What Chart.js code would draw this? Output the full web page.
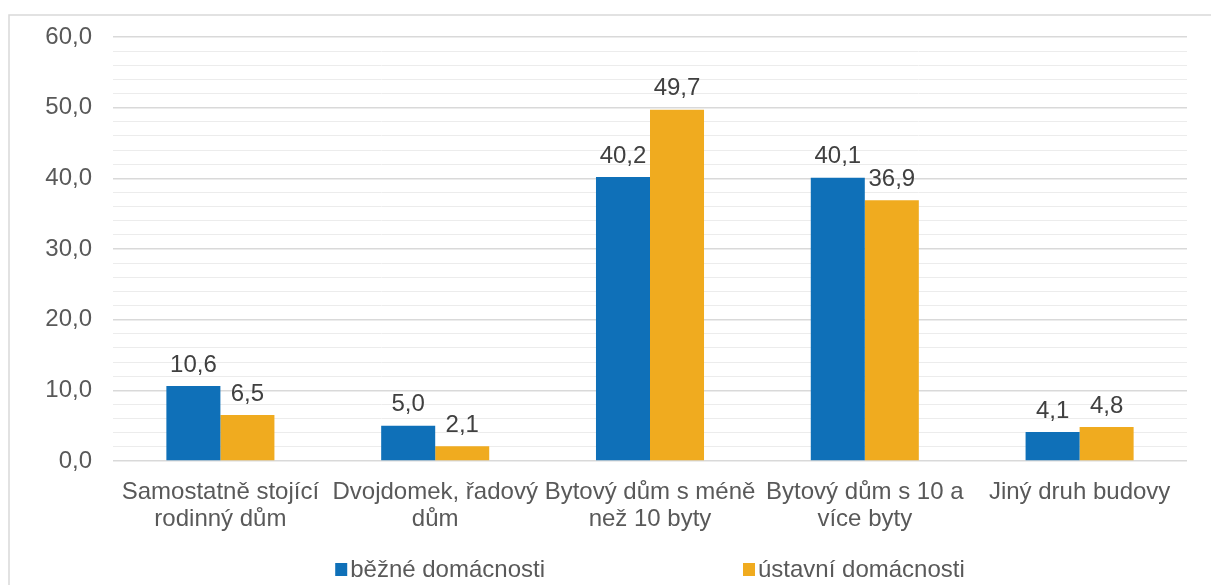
<!DOCTYPE html>
<html>
<head>
<meta charset="utf-8">
<script src="https://cdn.jsdelivr.net/npm/chart.js@4"></script>
<style>
  html, body { margin: 0; padding: 0; background: #fff; }
  #wrap { width: 1211px; height: 585px; position: relative; }
</style>
</head>
<body>
<div id="wrap"><canvas id="myChart"></canvas></div>
<script>
// Data
const categories = [
    ['Samostatně stojící', 'rodinný dům'],
    ['Dvojdomek, řadový', 'dům'],
    ['Bytový dům s méně', 'než 10 byty'],
    ['Bytový dům s 10 a', 'více byty'],
    'Jiný druh budovy'
];
const seriesNames = ['běžné domácnosti', 'ústavní domácnosti'];
const bezne = [10.6, 5.0, 40.2, 40.1, 4.1];
const ustavni = [6.5, 2.1, 49.7, 36.9, 4.8];

const FONT = '"Liberation Sans", Arial, sans-serif';
const fmt = v => v.toFixed(1).replace('.', ',');

// Outer frame (top and left edges only are visible)
const framePlugin = {
    id: 'frame',
    beforeDraw(chart) {
        const ctx = chart.ctx;
        ctx.save();
        ctx.strokeStyle = '#d9d9d9';
        ctx.lineWidth = 1.5;
        ctx.beginPath();
        ctx.moveTo(9, chart.height);
        ctx.lineTo(9, 15);
        ctx.lineTo(chart.width, 15);
        ctx.stroke();
        ctx.restore();
    }
};

// Value labels above each bar
const valueLabels = {
    id: 'valueLabels',
    afterDatasetsDraw(chart) {
        const ctx = chart.ctx;
        ctx.save();
        ctx.font = '24px ' + FONT;
        ctx.fillStyle = '#404040';
        ctx.textAlign = 'center';
        ctx.textBaseline = 'bottom';
        chart.data.datasets.forEach((ds, i) => {
            chart.getDatasetMeta(i).data.forEach((bar, j) => {
                ctx.fillText(fmt(ds.data[j]), bar.x, bar.y - 9);
            });
        });
        ctx.restore();
    }
};

// Excel-like legend with wide gap between entries
const wideLegend = {
    id: 'wideLegend',
    afterDraw(chart) {
        const ctx = chart.ctx;
        const area = chart.chartArea;
        ctx.save();
        ctx.font = '24px ' + FONT;
        ctx.textBaseline = 'middle';
        const box = 12, gapText = 3, gapItems = 198, y = 570;
        const widths = chart.data.datasets.map(ds => box + gapText + ctx.measureText(ds.label).width);
        const total = widths.reduce((a, b) => a + b, 0) + gapItems * (widths.length - 1);
        let x = (area.left + area.right) / 2 - total / 2;
        chart.data.datasets.forEach((ds, i) => {
            ctx.fillStyle = ds.backgroundColor;
            ctx.fillRect(x, y - 7, box, 13);
            ctx.fillStyle = '#595959';
            ctx.textAlign = 'left';
            ctx.fillText(ds.label, x + box + gapText, y);
            x += widths[i] + gapItems;
        });
        ctx.restore();
    }
};

function renderChart() {
    const ctx = document.getElementById('myChart').getContext('2d');
    new Chart(ctx, {
        type: 'bar',
        data: {
            labels: categories,
            datasets: [
                {
                    label: seriesNames[0],
                    data: bezne,
                    backgroundColor: '#0F70B8',
                    categoryPercentage: 0.503,
                    barPercentage: 1
                },
                {
                    label: seriesNames[1],
                    data: ustavni,
                    backgroundColor: '#F0AB1F',
                    categoryPercentage: 0.503,
                    barPercentage: 1
                }
            ]
        },
        options: {
            responsive: true,
            maintainAspectRatio: false,
            animation: false,
            layout: { padding: { top: 37, right: 24, left: 0, bottom: 0 } },
            plugins: {
                legend: { display: false },
                tooltip: { enabled: false }
            },
            scales: {
                x: {
                    grid: { display: false },
                    border: { display: false },
                    ticks: {
                        color: '#595959',
                        font: { family: FONT, size: 24, lineHeight: 1.12 },
                        maxRotation: 0,
                        autoSkip: false,
                        padding: 10
                    },
                    afterFit: s => { s.height = 124; }
                },
                y: {
                    min: 0,
                    max: 60,
                    border: { display: false },
                    grid: {
                        drawTicks: false,
                        color: c => c.tick.value % 10 === 0 ? '#d9d9d9' : '#ececec',
                        lineWidth: c => c.tick.value % 10 === 0 ? 1.5 : 1
                    },
                    ticks: {
                        stepSize: 2,
                        autoSkip: false,
                        color: '#595959',
                        font: { family: FONT, size: 24 },
                        padding: 21,
                        callback: v => v % 10 === 0 ? fmt(v) : ''
                    },
                    afterFit: s => { s.width = 113; }
                }
            }
        },
        plugins: [framePlugin, valueLabels, wideLegend]
    });
}

renderChart();
</script>
</body>
</html>
